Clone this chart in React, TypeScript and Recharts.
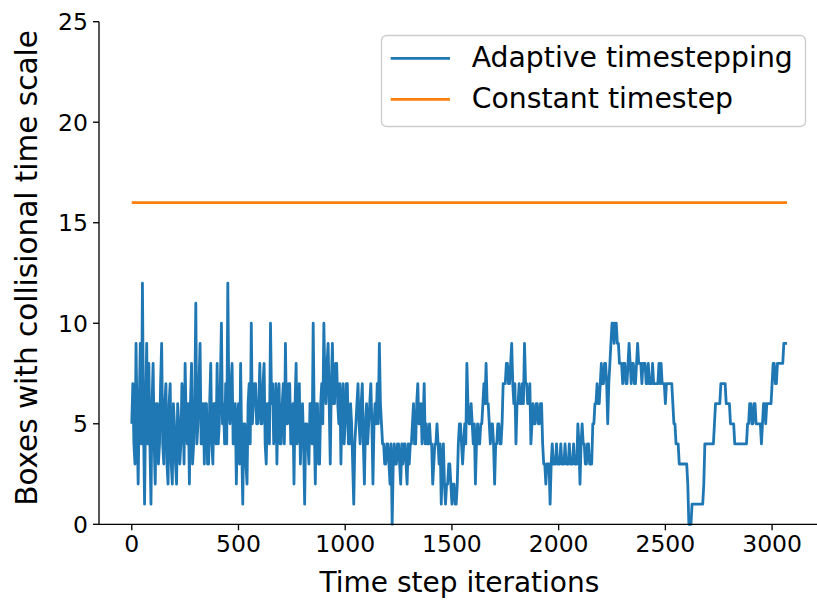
import React from 'react';
import { LineChart, Line, XAxis, YAxis } from 'recharts';

// Iteration spacing between the main samples (x categories); a second
// reading sits halfway between each pair of samples.
const STEP = 10;

// "Adaptive timestepping": value read at iterations 0, 10, 20, ... 3070
const adaptiveValues = [
  5, 4, 9, 2, 9, 12, 1, 9, 8, 1,
  8, 2, 6, 4, 9, 3, 7, 2, 7, 2,
  5, 2, 5, 4, 6, 8, 4, 2, 8, 4,
  11, 5, 9, 4, 3, 6, 3, 8, 3, 6,
  8, 5, 10, 6, 7, 12, 5, 8, 4, 2,
  6, 8, 1, 5, 2, 7, 10, 6, 7, 5,
  8, 5, 8, 3, 6, 10, 7, 5, 3, 7,
  4, 7, 9, 5, 7, 4, 2, 8, 5, 3,
  6, 1, 5, 3, 6, 10, 2, 6, 3, 7,
  10, 6, 9, 3, 9, 6, 8, 5, 3, 7,
  5, 7, 4, 5, 1, 5, 7, 4, 7, 2,
  6, 5, 7, 2, 6, 7, 9, 5, 4, 3,
  4, 2, 0, 4, 3, 4, 2, 3, 4, 2,
  3, 4, 6, 4, 7, 5, 4, 7, 5, 4,
  4, 2, 4, 5, 3, 1, 4, 1, 2, 3,
  1, 2, 1, 4, 5, 3, 5, 8, 5, 6,
  4, 2, 5, 4, 5, 7, 8, 6, 4, 5,
  2, 4, 5, 4, 7, 7, 8, 7, 9, 6,
  4, 6, 6, 7, 9, 7, 6, 4, 6, 5,
  6, 5, 6, 3, 2, 3, 1, 4, 3, 4,
  3, 4, 3, 4, 3, 4, 3, 4, 3, 5,
  2, 5, 4, 3, 4, 3, 5, 6, 7, 6,
  8, 7, 8, 5, 8, 10, 9, 10, 9, 8,
  7, 8, 7, 9, 7, 8, 7, 9, 8, 7,
  8, 7, 8, 7, 8, 7, 7, 8, 8, 7,
  6, 7, 7, 7, 5, 4, 4, 3, 3, 3,
  3, 0, 0, 1, 1, 1, 1, 1, 2, 4,
  4, 4, 4, 5, 6, 6, 7, 7, 7, 6,
  6, 5, 5, 4, 4, 4, 4, 4, 4, 5,
  6, 5, 6, 5, 5, 4, 6, 5, 6, 6,
  7, 8, 7, 8, 8, 8, 9, 9,
];

// "Adaptive timestepping": value read at iterations 5, 15, 25, ... 3065
const adaptiveMidValues = [
  7, 3, 5, 6, 4, 5, 6, 4, 4, 6,
  4, 6, 3, 7, 4, 6, 3, 6, 3, 6,
  3, 6, 3, 7, 3, 5, 6, 6, 3, 6,
  4, 7, 4, 6, 6, 3, 6, 4, 6, 4,
  4, 7, 5, 4, 4, 6, 7, 4, 6, 5,
  3, 4, 5, 3, 6, 4, 5, 7, 5, 6,
  5, 7, 4, 6, 4, 6, 4, 7, 6, 4,
  6, 4, 5, 7, 4, 6, 6, 4, 7, 5,
  4, 5, 4, 6, 4, 5, 6, 3, 6, 5,
  7, 8, 6, 7, 6, 8, 6, 7, 6, 4,
  7, 4, 6, 3, 4, 6, 5, 6, 4, 5,
  4, 6, 5, 5, 5, 5, 6, 4, 3, 4,
  3, 4, 3, 3, 4, 3, 4, 4, 3, 4,
  4, 5, 4, 6, 5, 6, 5, 4, 4, 5,
  4, 3, 4, 4, 4, 3, 2, 2, 3, 2,
  2, 1, 2, 5, 4, 4, 4, 6, 5, 5,
  5, 4, 4, 5, 6, 6, 6, 5, 5, 4,
  4, 5, 4, 5, 7, 8, 7, 8, 7, 7,
  6, 7, 6, 6, 7, 6, 7, 5, 5, 6,
  5, 6, 4, 3, 3, 3, 3, 3, 3, 3,
  3, 3, 3, 3, 3, 3, 3, 3, 3, 4,
  4, 4, 3, 4, 3, 3, 5, 6, 6, 7,
  7, 8, 7, 7, 9, 10, 10, 9, 8, 8,
  8, 7, 8, 8, 8, 7, 8, 8, 8, 8,
  8, 7, 7, 7, 7, 7, 7, 7, 7, 7,
  7, 7, 7, 6, 5, 4, 3, 3, 3, 3,
  2, 0, 1, 1, 1, 1, 1, 1, 4, 4,
  4, 4, 4, 6, 6, 6, 7, 7, 6, 6,
  5, 5, 4, 4, 4, 4, 4, 4, 5, 6,
  5, 6, 5, 5, 5, 5, 6, 6, 6, 6,
  8, 7, 8, 8, 8, 9, 9,
];

// "Constant timestep" series value
const constantValue = 16;

const xTicks = [0, 500, 1000, 1500, 2000, 2500, 3000];
const yTicks = [0, 5, 10, 15, 20, 25];

const seriesNames = ['Adaptive timestepping', 'Constant timestep'];
const seriesColors = ['#1f77b4', '#ff7f0e'];

const xLabel = 'Time step iterations';
const yLabel = 'Boxes with collisional time scale';

const data: { it: number; adaptive: number; constant: number }[] = [];
adaptiveValues.forEach((v, i) => {
  data.push({ it: i * STEP, adaptive: v, constant: constantValue });
  if (i < adaptiveMidValues.length) {
    data.push({
      it: i * STEP + STEP / 2,
      adaptive: adaptiveMidValues[i],
      constant: constantValue,
    });
  }
});

const FONT = "'DejaVu Sans', sans-serif";
const X_DOMAIN: [number, number] = [-153.5, 3223.5];
const LINE_W = 2.8;

export default function App() {
  return (
    <div
      style={{
        position: 'absolute',
        left: 0,
        top: 0,
        width: 817,
        height: 602,
        overflow: 'hidden',
        background: '#ffffff',
      }}
    >
      <LineChart
        width={822}
        height={602}
        data={data}
        margin={{ top: 21.7, right: 2.2, bottom: 0, left: 0 }}
      >
        <XAxis
          dataKey="it"
          type="number"
          domain={X_DOMAIN}
          allowDataOverflow
          ticks={xTicks}
          interval={0}
          height={77.7}
          tickSize={6}
          tickMargin={5}
          axisLine={{ stroke: '#000', strokeWidth: 1.33 }}
          tickLine={{ stroke: '#000', strokeWidth: 1.33 }}
          tick={{ fill: '#000', fontSize: 23.5, fontFamily: FONT }}
        />
        <XAxis
          xAxisId="top"
          orientation="top"
          dataKey="it"
          type="number"
          domain={X_DOMAIN}
          allowDataOverflow
          height={0}
          tick={false}
          tickLine={false}
          axisLine={{ stroke: '#000', strokeWidth: 1.33 }}
        />
        <YAxis
          type="number"
          domain={[0, 25]}
          ticks={yTicks}
          interval={0}
          width={99}
          tickSize={6}
          tickMargin={5}
          axisLine={{ stroke: '#000', strokeWidth: 1.33 }}
          tickLine={{ stroke: '#000', strokeWidth: 1.33 }}
          tick={{ fill: '#000', fontSize: 23.5, fontFamily: FONT }}
        />
        <Line
          dataKey="adaptive"
          name={seriesNames[0]}
          type="linear"
          stroke={seriesColors[0]}
          strokeWidth={LINE_W}
          strokeLinejoin="round"
          dot={false}
          activeDot={false}
          isAnimationActive={false}
        />
        <Line
          dataKey="constant"
          name={seriesNames[1]}
          type="linear"
          stroke={seriesColors[1]}
          strokeWidth={LINE_W}
          dot={false}
          activeDot={false}
          isAnimationActive={false}
        />
      </LineChart>
      <svg
        width={817}
        height={602}
        style={{ position: 'absolute', left: 0, top: 0, pointerEvents: 'none' }}
      >
        <text
          x={459.4}
          y={592}
          textAnchor="middle"
          fontSize={28}
          fontFamily={FONT}
          fill="#000"
        >
          {xLabel}
        </text>
        <text
          transform="translate(36.5,268) rotate(-90)"
          textAnchor="middle"
          fontSize={29.5}
          fontFamily={FONT}
          fill="#000"
        >
          {yLabel}
        </text>
        <g transform="translate(381,35)">
          <rect
            x={0.5}
            y={0.5}
            width={424}
            height={91}
            rx={5}
            ry={5}
            fill="rgba(255,255,255,0.8)"
            stroke="#cccccc"
            strokeWidth={1.33}
          />
          {seriesNames.map((name, i) => (
            <g key={name}>
              <line
                x1={9.7}
                x2={69}
                y1={23.3 + i * 41}
                y2={23.3 + i * 41}
                stroke={seriesColors[i]}
                strokeWidth={LINE_W}
              />
              <text
                x={90.7}
                y={32 + i * 41}
                fontSize={28.3}
                fontFamily={FONT}
                fill="#000"
              >
                {name}
              </text>
            </g>
          ))}
        </g>
      </svg>
    </div>
  );
}
